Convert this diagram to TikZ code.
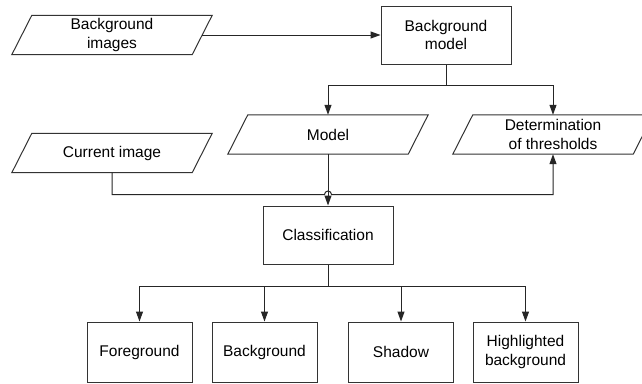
\documentclass[tikz,border=0pt]{standalone}
\usepackage{fontspec}
\setmainfont{Liberation Sans}
\usetikzlibrary{arrows.meta,calc}
\tikzset{
  box/.style={draw=black!80, line width=1pt, rectangle, align=center, inner sep=0pt},
  paranode/.style={rectangle, align=center, inner sep=0pt, minimum width=180, minimum height=39},
  conn/.style={draw=black!85, line width=1pt},
  arr/.style={conn, -{Triangle[length=10pt,width=7pt]}},
  pshape/.style={draw=black!80, line width=1pt, line join=miter}
}
\newcommand{\paradraw}[1]{%
  \draw[pshape] ([xshift=10pt]#1.north west) -- ([xshift=10pt]#1.north east) -- ([xshift=-10pt]#1.south east) -- ([xshift=-10pt]#1.south west) -- cycle;}
\begin{document}
\begin{tikzpicture}[x=1pt,y=-1pt,font=\fontsize{15.5}{18.5}\selectfont]
\useasboundingbox (0,0) rectangle (642,383);
\clip (0,0) rectangle (642,383);
\fill[white] (0,0) rectangle (642,383);
% parallelograms
\node[paranode] (bi) at (112,35) {Background\\images};
\node[paranode] (ci) at (112,153) {Current image};
\node[paranode] (mod) at (328,134.5) {Model};
\node[paranode] (det) at (553,134.5) {Determination\\of thresholds};
\paradraw{bi}
\paradraw{ci}
\paradraw{mod}
\paradraw{det}
% boxes
\node[box, minimum width=130, minimum height=58] (bm) at (446,35) {Background\\model};
\node[box, minimum width=130, minimum height=58] (cls) at (328,235) {Classification};
\node[box, minimum width=105, minimum height=60] (fg) at (139.5,352) {Foreground};
\node[box, minimum width=105, minimum height=60] (bg) at (264.5,352) {Background};
\node[box, minimum width=105, minimum height=60] (sh) at (401,352) {Shadow};
\node[box, minimum width=105, minimum height=60] (hb) at (525.5,352) {Highlighted\\background};
% coordinates
\coordinate (f1) at (446,85);
\coordinate (f2) at (328,286);
\coordinate (hopL) at (324.5,194.5);
% connectors
\draw[arr] (bi.east) -- (bm.west);
\draw[conn] (bm.south) -- (f1);
\draw[arr] (f1) -| (mod.north);
\draw[arr] (f1) -| (det.north);
\draw[arr] (mod.south) -- (cls.north);
\draw[arr] (ci.south) |- (hopL) arc[start angle=180, end angle=360, radius=3.5] -| (det.south);
\draw[conn] (cls.south) -- (f2);
\draw[arr] (f2) -| (fg.north);
\draw[arr] (f2) -| (bg.north);
\draw[arr] (f2) -| (sh.north);
\draw[arr] (f2) -| (hb.north);
\end{tikzpicture}
\end{document}
